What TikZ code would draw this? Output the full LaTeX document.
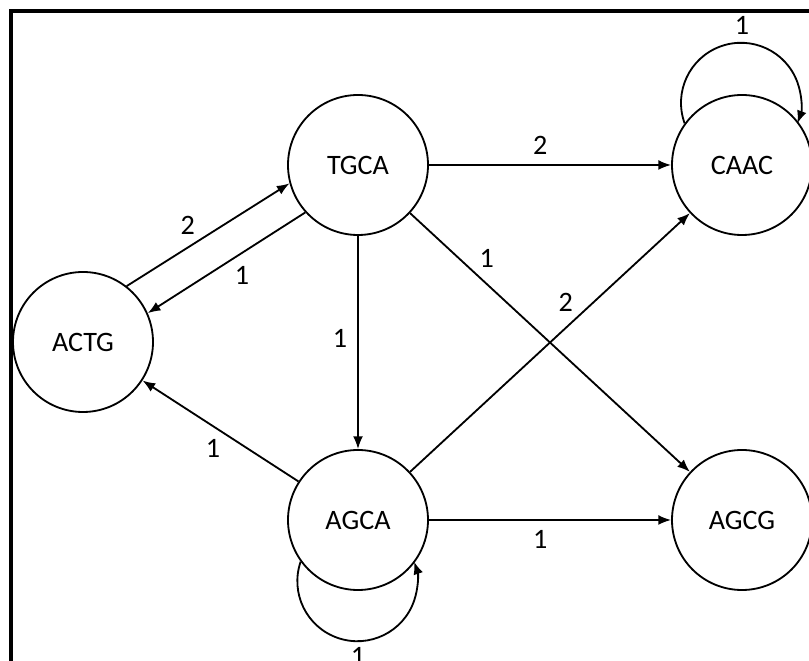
\documentclass[tikz,border=0pt]{standalone}
\usepackage{fontspec}
\setmainfont{Carlito}
\usetikzlibrary{positioning,arrows.meta,automata}

\begin{document}
\begin{tikzpicture}[>={Latex[length=9pt,width=7pt]},line width=1.3pt,
  node distance=9.6cm,on grid,auto,font=\fontsize{20}{24}\selectfont,
  every state/.style={minimum size=3.5cm,line width=1.3pt}]
  \useasboundingbox (0,0) rectangle (20.225,-16.525);
  \draw[line width=2.2pt] (0.275,-16.8) |- (20.5,-0.275);
  \node[state] (tgca) at (8.95,-4.125) {TGCA};
  \node[state] (caac) [right=of tgca] {CAAC};
  \node[state] (agca) [below=8.875cm of tgca] {AGCA};
  \node[state] (agcg) [right=of agca] {AGCG};
  \node[state] (actg) [below left=4.425cm and 6.875cm of tgca] {ACTG};
  % self loops
  \draw[->] (caac.144) arc[start angle=200,end angle=-20,radius=1.5cm];
  \node (wcaac) [above=3.5cm of caac] {1};
  \draw[->] (agca.216) arc[start angle=161,end angle=379,radius=1.5cm];
  \node (wagca) [below=3.4cm of agca] {1};
  \path[->,every node/.style={inner sep=3pt}]
  (tgca) edge node[pos=0.46,above=4pt] {2} (caac)
  (tgca) edge node[pos=0.48,left=4pt] {1} (agca)
  (tgca) edge node[pos=0.23] {1} (agcg)
  (tgca.222) edge node[pos=0.48] {1} (actg.24)
  (actg.52) edge node[pos=0.45] {2} (tgca.195)
  (agca) edge node[pos=0.6] {2} (caac)
  (agca) edge node[pos=0.46,below=4pt] {1} (agcg)
  (agca) edge node[pos=0.47] {1} (actg)
  ;
\end{tikzpicture}
\end{document}
